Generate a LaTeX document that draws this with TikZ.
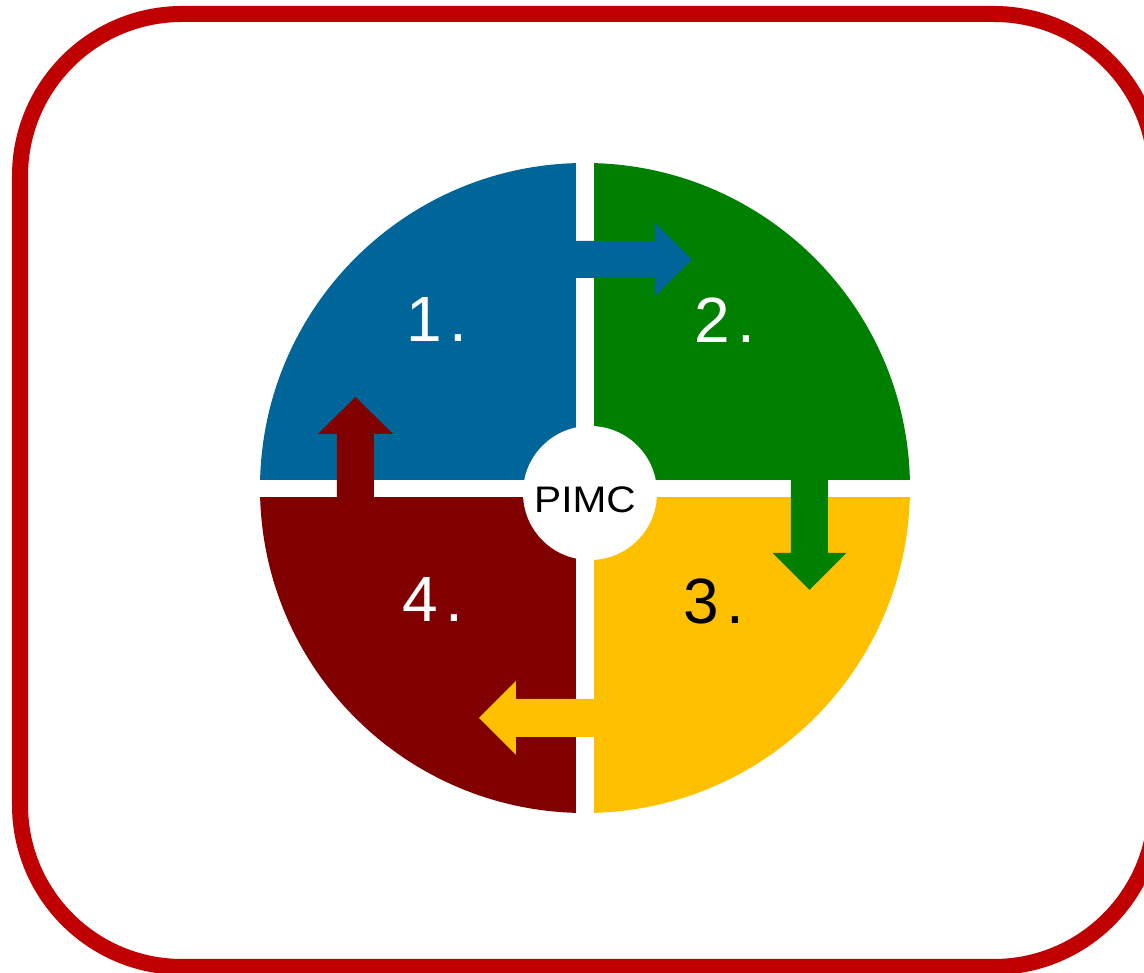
\documentclass[tikz,border=0pt]{standalone}
\usepackage{fontspec}
\setmainfont{Liberation Sans}
\usepackage{xcolor}

\definecolor{pimcblue}{HTML}{006699}
\definecolor{pimcgreen}{HTML}{008000}
\definecolor{pimcyellow}{HTML}{FFC000}
\definecolor{pimcred}{HTML}{800000}
\definecolor{framered}{HTML}{C00000}

\newcommand{\stepno}[1]{#1\kern0.07cm.}

\tikzset{
  steplabel/.style={font=\fontsize{18.2}{20}\selectfont, text=white, inner sep=0pt},
  hublabel/.style={font=\fontsize{10.5}{12}\selectfont, text=black, inner sep=0pt, xscale=1.1}
}

\begin{document}
\begin{tikzpicture}[x=0.01cm, y=0.01cm]
    \useasboundingbox (0,0) rectangle (1144,973);
    \clip (0,0) rectangle (1144,973);

    % Frame
    \draw[framered, line width=0.16cm, rounded corners=1.62cm] (20,6) rectangle (1156,959);

    % Quadrants
    \begin{scope}
        \clip (585,485) circle (325);
        \fill[pimcblue] (250,493) rectangle (576,820);
        \fill[pimcgreen] (594,493) rectangle (920,820);
        \fill[pimcyellow] (594,150) rectangle (920,476);
        \fill[pimcred] (250,150) rectangle (576,476);
    \end{scope}

    % Arrows
    \fill[pimcblue] (560,695) -- (655,695) -- (655,677) -- (692,713.5) -- (655,750) -- (655,732) -- (560,732) -- cycle;
    \fill[pimcgreen] (791,503) -- (791,420) -- (772.5,420) -- (809.5,383) -- (846.5,420) -- (828,420) -- (828,503) -- cycle;
    \fill[pimcyellow] (610,236) -- (516,236) -- (516,218) -- (479,255) -- (516,292) -- (516,274) -- (610,274) -- cycle;
    \fill[pimcred] (337,470) -- (337,539) -- (318,539) -- (355.5,576) -- (393,539) -- (374,539) -- (374,470) -- cycle;

    % Centre
    \fill[white] (590,480) circle (67);
    \node[hublabel] (hub) at (585,473.5) {PIMC};

    % Step numbers
    \node[steplabel] (s1) at (437,653) {\stepno{1}};
    \node[steplabel] (s2) at (725,653) {\stepno{2}};
    \node[steplabel, text=black] (s3) at (714,372) {\stepno{3}};
    \node[steplabel] (s4) at (433,373) {\stepno{4}};
\end{tikzpicture}
\end{document}
